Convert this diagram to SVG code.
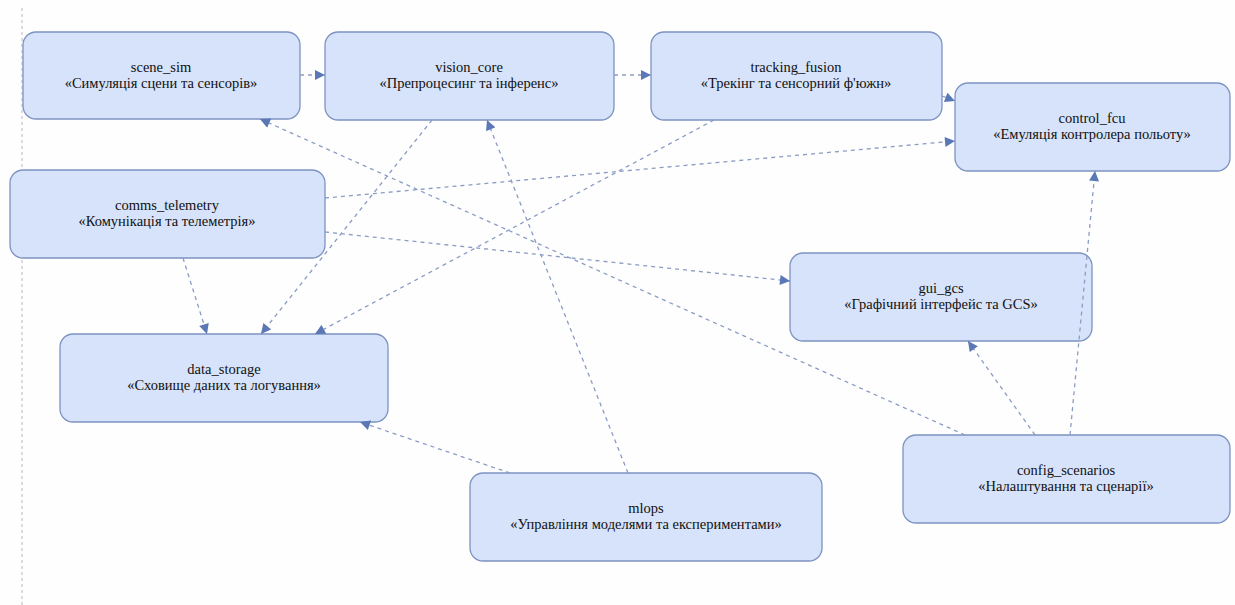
<svg xmlns="http://www.w3.org/2000/svg" width="1235" height="605" viewBox="0 0 1235 605">
<defs>
<marker id="ah" viewBox="0 0 10 10" refX="10" refY="5" markerWidth="11" markerHeight="10" markerUnits="userSpaceOnUse" orient="auto">
<path d="M0,0 L10,5 L0,10 z" fill="#5b78b6"/>
</marker>
<style>
.n rect{fill:#d6e3fa;stroke:#7d93c2;stroke-width:1.3}
.n text{font-size:14.5px;fill:#111;text-anchor:middle}
.c line{stroke:#8a9cc4;stroke-width:1.3;stroke-dasharray:4 4;fill:none;marker-end:url(#ah)}
</style>
</defs>
<rect width="1235" height="605" fill="#fefefe"/>
<line x1="22" y1="8" x2="22" y2="605" stroke="#b8b8b8" stroke-width="1" stroke-dasharray="3 3"/>
<g font-family="'Liberation Serif', 'Times New Roman', serif">
<g id="scene_sim" class="n"><rect x="23" y="32" width="277" height="87" rx="13"/><text x="161" y="72">scene_sim</text><text x="161" y="88">«Симуляція сцени та сенсорів»</text></g>
<g id="vision_core" class="n"><rect x="325" y="32" width="289" height="88" rx="13"/><text x="469" y="72">vision_core</text><text x="469" y="88">«Препроцесинг та інференс»</text></g>
<g id="tracking_fusion" class="n"><rect x="651" y="32" width="291" height="88" rx="13"/><text x="796" y="72">tracking_fusion</text><text x="796" y="88">«Трекінг та сенсорний ф'южн»</text></g>
<g id="control_fcu" class="n"><rect x="955" y="83" width="275" height="88" rx="13"/><text x="1092" y="123">control_fcu</text><text x="1092" y="139">«Емуляція контролера польоту»</text></g>
<g id="comms_telemetry" class="n"><rect x="10" y="170" width="315" height="88" rx="13"/><text x="167" y="210">comms_telemetry</text><text x="167" y="226">«Комунікація та телеметрія»</text></g>
<g id="gui_gcs" class="n"><rect x="790" y="253" width="302" height="88" rx="13"/><text x="941" y="293">gui_gcs</text><text x="941" y="309">«Графічний інтерфейс та GCS»</text></g>
<g id="data_storage" class="n"><rect x="60" y="334" width="328" height="88" rx="13"/><text x="224" y="374">data_storage</text><text x="224" y="390">«Сховище даних та логування»</text></g>
<g id="config_scenarios" class="n"><rect x="903" y="435" width="327" height="88" rx="13"/><text x="1066" y="475">config_scenarios</text><text x="1066" y="491">«Налаштування та сценарії»</text></g>
<g id="mlops" class="n"><rect x="470" y="473" width="352" height="88" rx="13"/><text x="646" y="513">mlops</text><text x="646" y="529">«Управління моделями та експериментами»</text></g>
</g>
<g id="connectors" class="c">
<line x1="300" y1="75" x2="325" y2="75"/>
<line x1="614" y1="75" x2="651" y2="75"/>
<line x1="942" y1="96" x2="955" y2="101"/>
<line x1="325" y1="198" x2="955" y2="141"/>
<line x1="325" y1="232" x2="790" y2="281"/>
<line x1="183" y1="258" x2="207" y2="334"/>
<line x1="432" y1="120" x2="261" y2="334"/>
<line x1="714" y1="120" x2="315" y2="334"/>
<line x1="965" y1="435" x2="260" y2="119"/>
<line x1="1035" y1="435" x2="968" y2="341"/>
<line x1="1070" y1="435" x2="1095" y2="171"/>
<line x1="628" y1="473" x2="487" y2="120"/>
<line x1="510" y1="473" x2="360" y2="422"/>
</g>
</svg>
